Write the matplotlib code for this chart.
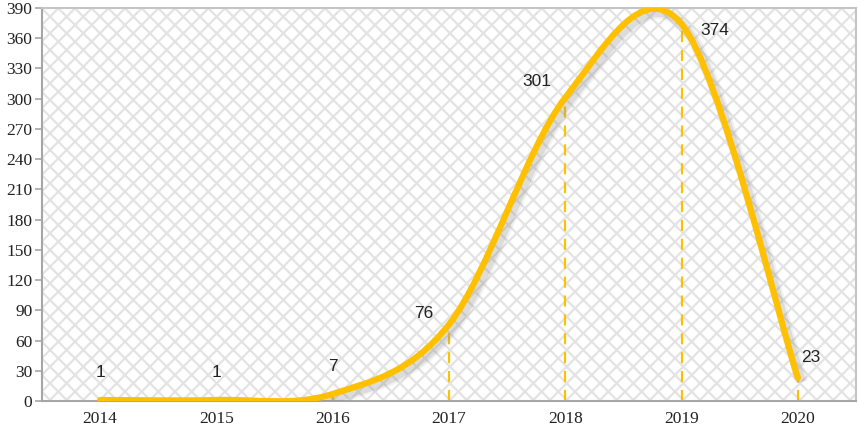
import numpy as np
import matplotlib.pyplot as plt
import matplotlib.transforms as mtransforms
from matplotlib.path import Path
from matplotlib.patches import PathPatch, Rectangle

# Data
years = ["2014", "2015", "2016", "2017", "2018", "2019", "2020"]
counts = [1, 1, 7, 76, 301, 374, 23]
# label offsets in pixels (dx, dy) from each point
label_dx = [0, 0, 0, -25, -28, 33, 13]
label_dy = [27, 27, 27, 11, 16, -6, 20]

gold = "#FFC000"
plt.rcParams["hatch.linewidth"] = 1.6

fig = plt.figure(figsize=(8.58, 4.29), dpi=100)
ax = fig.add_axes([42 / 858, 1 - 401 / 429, (856 - 42) / 858, (401 - 8) / 429])

x = np.arange(len(years))
y = np.array(counts, dtype=float)

# hatched background
bg = Rectangle((0, 0), 1, 1, transform=ax.transAxes, facecolor="white",
               edgecolor="#E3E3E3", hatch="xx", linewidth=0, zorder=0)
ax.add_patch(bg)

# smoothed line (Excel-style bezier)
pts = np.column_stack([x, y])
verts = [pts[0]]
codes = [Path.MOVETO]
n = len(pts)
for i in range(n - 1):
    p0 = pts[max(i - 1, 0)]
    p1 = pts[i]
    p2 = pts[i + 1]
    p3 = pts[min(i + 2, n - 1)]
    verts += [p1 + (p2 - p0) / 6, p2 - (p3 - p1) / 6, p2]
    codes += [Path.CURVE4] * 3
path = Path(verts, codes)

# soft shadow offset down-right
offset = mtransforms.ScaledTranslation(4 / 100, -4 / 100, fig.dpi_scale_trans)
for lw, a in [(9, 0.12), (6, 0.2)]:
    ax.add_patch(PathPatch(path, facecolor="none", edgecolor="#8C8C8C",
                           linewidth=lw, alpha=a, zorder=3,
                           transform=ax.transData + offset))
ax.add_patch(PathPatch(path, facecolor="none", edgecolor=gold,
                       linewidth=4.5, capstyle="round", zorder=4))

# drop lines
ax.vlines(x, 0, y, colors=gold, linestyles=(0, (5, 3.5)), linewidth=1.6, zorder=2)

# data labels
for xi, yi, lab, dx, dy in zip(x, y, counts, label_dx, label_dy):
    ax.annotate(str(lab), (xi, yi), xytext=(dx * 0.72, dy * 0.72),
                textcoords="offset points", ha="center", va="center",
                fontsize=12.5, family="Liberation Sans", color="#222222", zorder=5)

ax.set_xlim(-0.5, 6.5)
ax.set_ylim(0, 390)
ax.set_yticks(np.arange(0, 391, 30))
ax.set_xticks(x)
ax.set_xticklabels(years)
for lab in ax.get_xticklabels() + ax.get_yticklabels():
    lab.set_family("Liberation Serif")
    lab.set_fontsize(12.5)
    lab.set_color("#222222")
ax.tick_params(axis="x", length=0, pad=7)
ax.tick_params(axis="y", length=5, width=1.2, color="#A6A6A6", pad=2)

for side in ["left", "bottom"]:
    ax.spines[side].set_color("#A6A6A6")
    ax.spines[side].set_linewidth(1.5)
for side in ["top", "right"]:
    ax.spines[side].set_color("#C4C4C4")
    ax.spines[side].set_linewidth(1.5)

fig.savefig("out.png", dpi=100)
